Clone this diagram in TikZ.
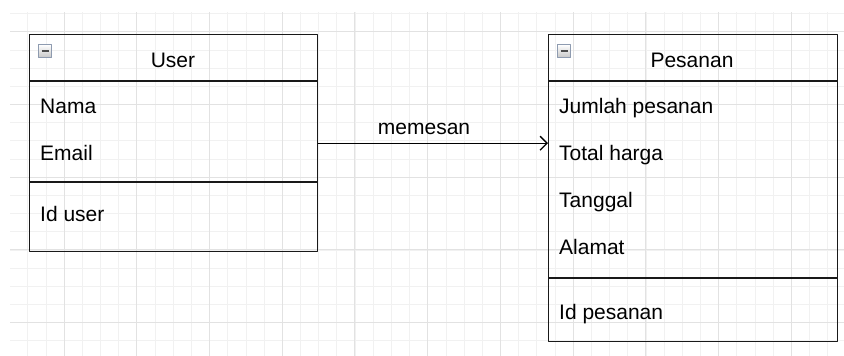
\documentclass[tikz,border=0pt]{standalone}
\usepackage{fontspec}
\setmainfont{Liberation Sans}
\usetikzlibrary{arrows.meta}

\definecolor{gridminor}{HTML}{F1F1F1}
\definecolor{gridmajor}{HTML}{E2E2E2}
\definecolor{togglefrm}{HTML}{8E9BB0}

\tikzset{
  classbox/.style={draw=black!90, line width=1.4pt, anchor=north west, inner sep=0pt},
  classline/.style={draw=black!90, line width=1.4pt},
  field/.style={anchor=base west, inner sep=0pt},
  ctitle/.style={anchor=base, inner sep=0pt},
  toggle/.style={draw=togglefrm, line width=1pt, top color=white, bottom color=black!22,
    minimum size=13pt, inner sep=0pt,
    path picture={\draw[black!70, line width=2.2pt]
      ([xshift=3pt]path picture bounding box.west) -- ([xshift=-3pt]path picture bounding box.east);}},
}

\begin{document}
\begin{tikzpicture}[x=1pt, y=-1pt, >={Straight Barb[length=7pt,width=14pt]},
  font=\fontsize{21}{25}\selectfont, line join=round]
\useasboundingbox (0,0) rectangle (844,356);
% latar grid
\begin{scope}
\clip (10,12) rectangle (844,356);
\foreach \x in {9.6,27.78,...,844} \draw[gridminor, line width=0.8pt] (\x,12) -- (\x,356);
\foreach \y in {13.6,31.78,...,356} \draw[gridminor, line width=0.8pt] (10,\y) -- (844,\y);
\foreach \x in {64.1,136.82,...,844} \draw[gridmajor, line width=1pt] (\x,12) -- (\x,356);
\foreach \y in {31.8,104.52,...,356} \draw[gridmajor, line width=1pt] (10,\y) -- (844,\y);
\end{scope}

% kelas User
\node[classbox, minimum width=288pt, minimum height=217pt] (user) at (29,34) {};
\draw[classline] (29,81) -- (317,81);
\draw[classline] (29,182) -- (317,182);
\node[toggle] (usertgl) at (45,51) {};
\node[ctitle] (usertitle) at (173,67) {User};
\node[field] (nama) at (40,113) {Nama};
\node[field] (email) at (40,160.5) {Email};
\node[field] (iduser) at (40,221.5) {Id user};

% kelas Pesanan
\node[classbox, minimum width=289pt, minimum height=307pt] (pesanan) at (548,34) {};
\draw[classline] (548,81) -- (837,81);
\draw[classline] (548,278) -- (837,278);
\node[toggle] (pesanantgl) at (564,51) {};
\node[ctitle] (pesanantitle) at (692,67) {Pesanan};
\node[field] (jumlah) at (559,113) {Jumlah pesanan};
\node[field] (total) at (559,160.5) {Total harga};
\node[field] (tanggal) at (559,207) {Tanggal};
\node[field] (alamat) at (559,254) {Alamat};
\node[field] (idpesanan) at (559,319) {Id pesanan};

% relasi
\draw[->, line width=1.3pt] (user.east) -- (user.east -| pesanan.west)
  node[pos=.46, anchor=base, yshift=8.5pt, inner sep=0pt] {memesan};
\end{tikzpicture}
\end{document}
